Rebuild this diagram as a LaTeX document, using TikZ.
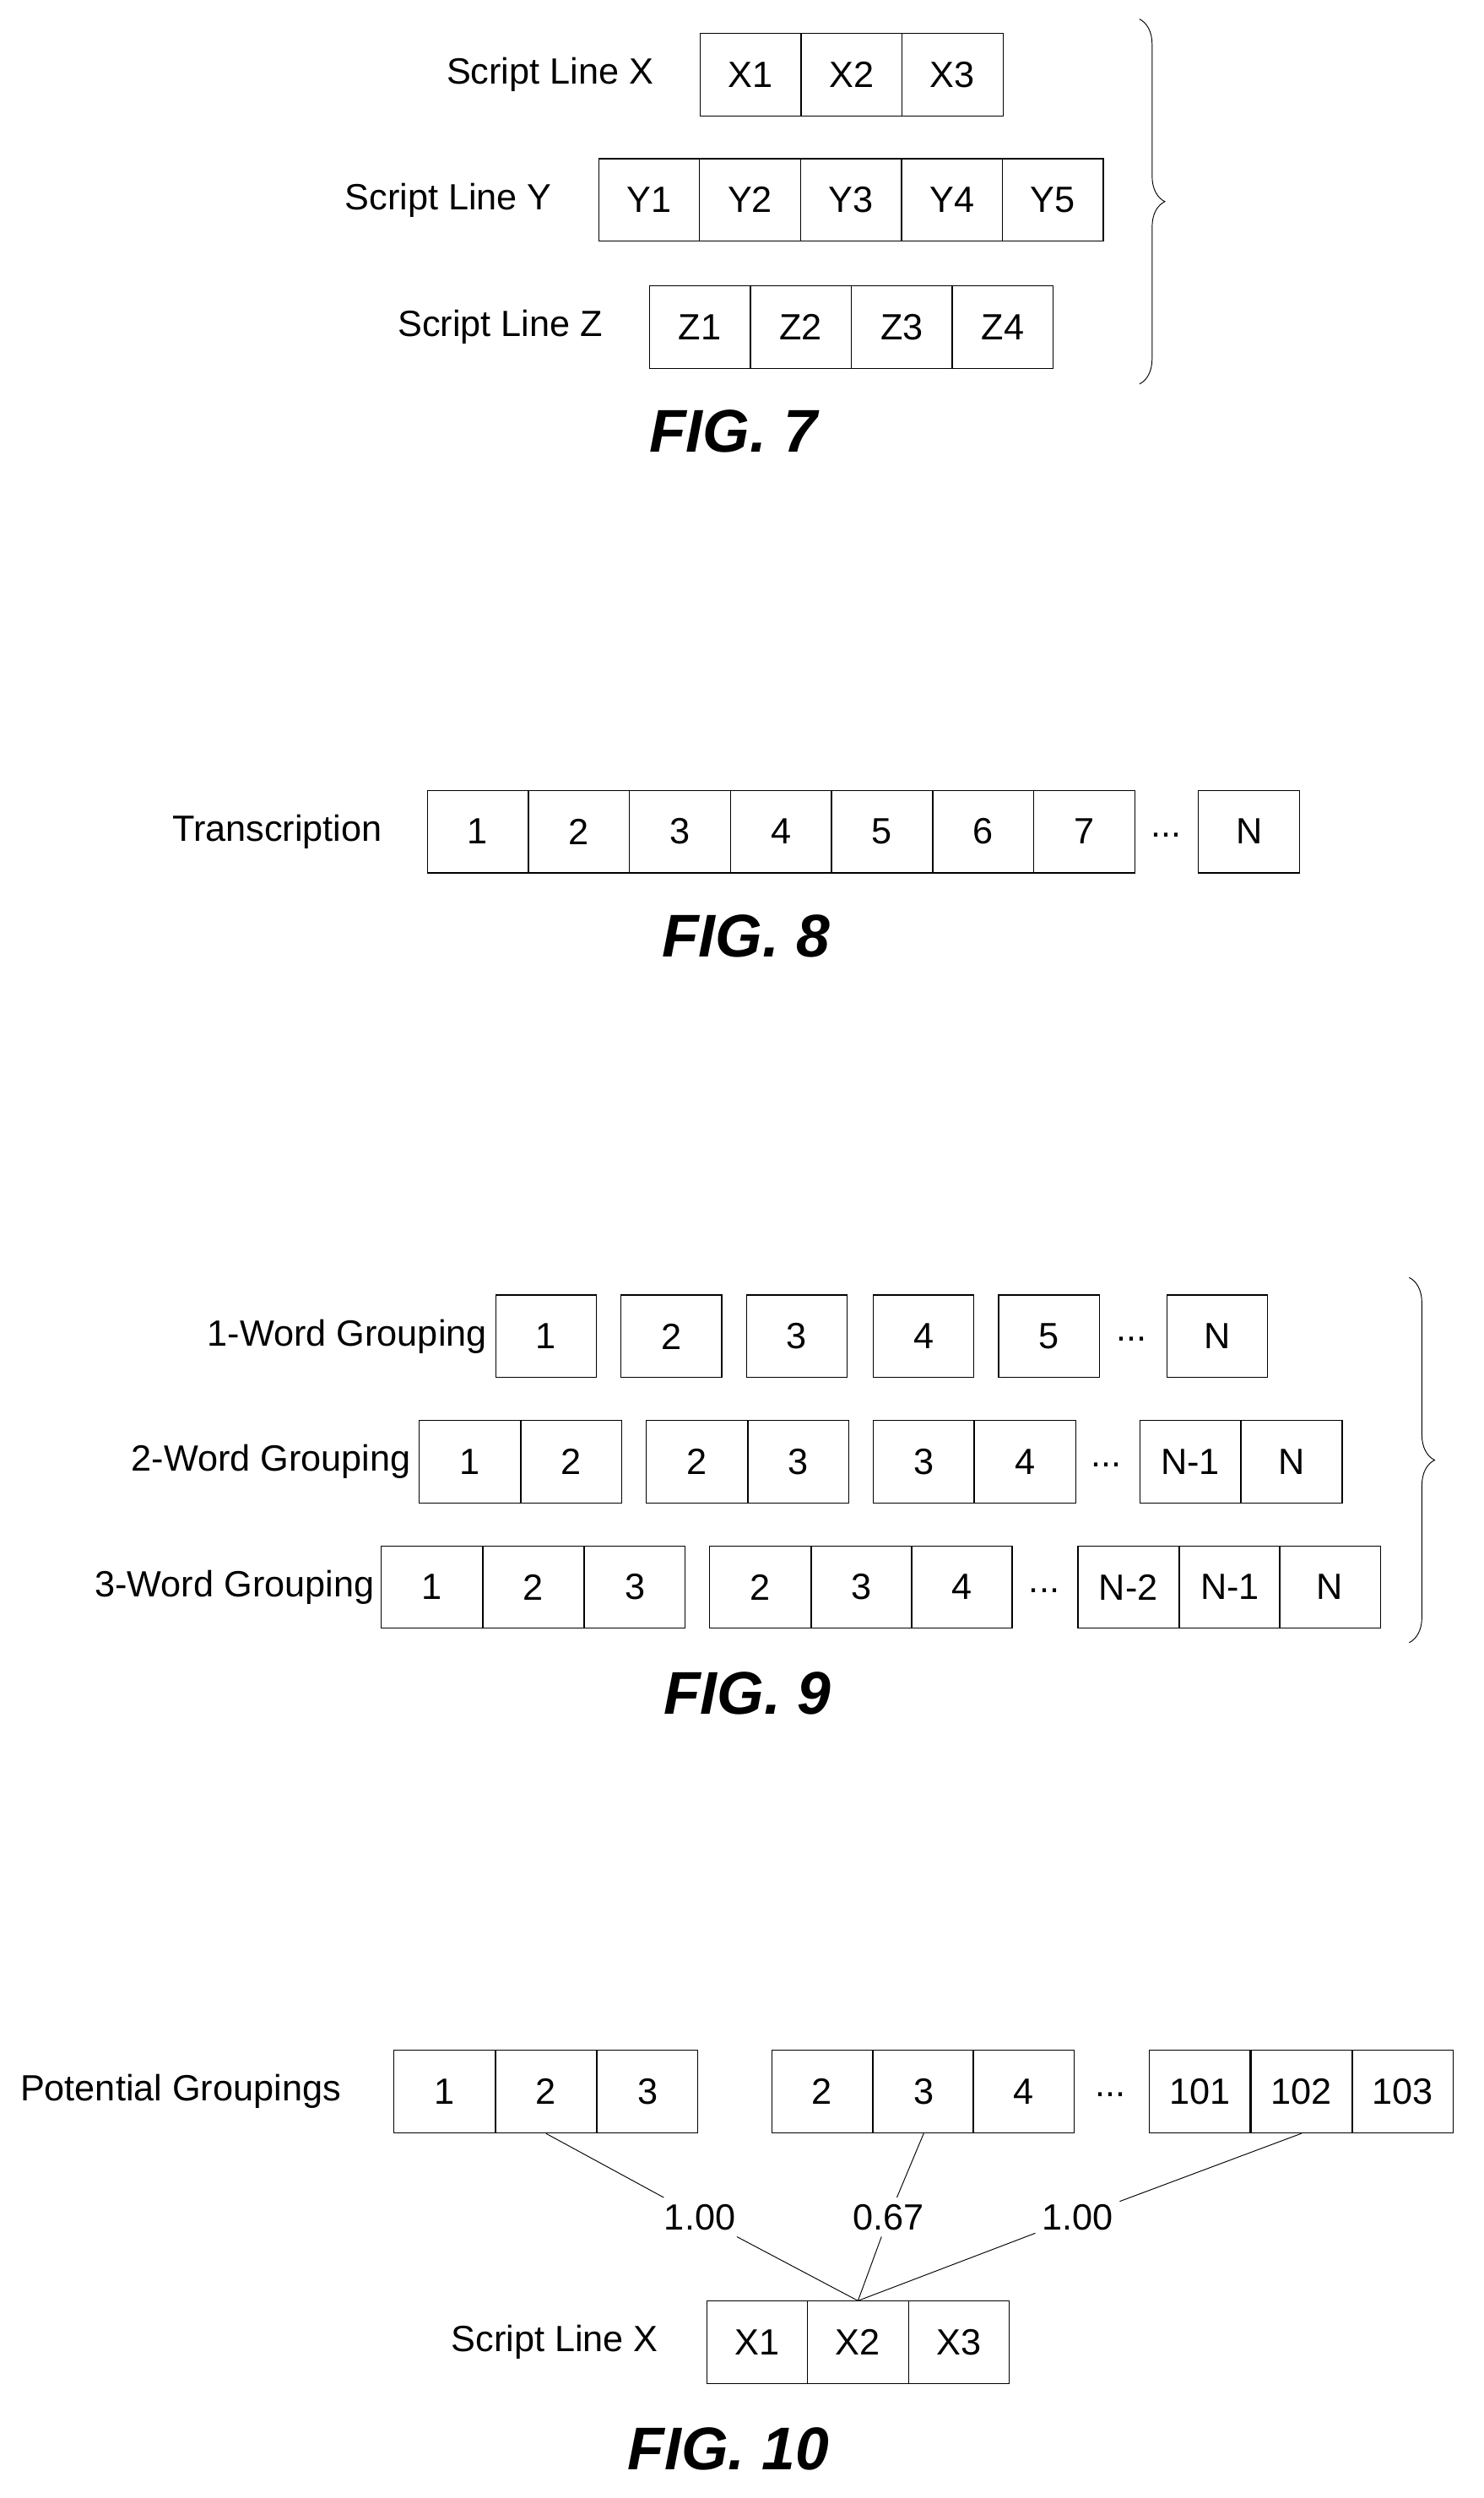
\documentclass[tikz,border=0pt]{standalone}
\usepackage{fontspec}
\setmainfont{Liberation Sans}
\usetikzlibrary{decorations.pathreplacing}
\begin{document}
\begin{tikzpicture}[x=1pt,y=-1pt,
  cell/.style={draw,line width=0.6pt,minimum width=63.5pt,minimum height=52pt,inner sep=0pt,font=\fontsize{23}{23}\selectfont,anchor=west},
  lab/.style={font=\fontsize{23}{23}\selectfont,anchor=east,inner sep=0pt},
  dots/.style={font=\fontsize{23}{23}\selectfont,inner sep=0pt},
  fig/.style={font=\fontsize{38}{38}\selectfont\bfseries\itshape,inner sep=0pt},
  brc/.style={decorate,decoration={brace,amplitude=16pt},line width=0.5pt},
  con/.style={line width=0.5pt},
  sc/.style={font=\fontsize{23}{23}\selectfont,inner sep=4pt,fill=white}]
\useasboundingbox (0,0) rectangle (935,1574);
% FIG 7
\node[lab] (lx) at (412,47) {Script Line X};
\foreach \t [count=\i] in {X1,X2,X3} \node[cell] (a\i) at ({441+63.6*(\i-1)},47) {\t};
\node[lab] (ly) at (348,126) {Script Line Y};
\foreach \t [count=\i] in {Y1,Y2,Y3,Y4,Y5} \node[cell] (b\i) at ({377+63.6*(\i-1)},126) {\t};
\node[lab] (lz) at (380,206) {Script Line Z};
\foreach \t [count=\i] in {Z1,Z2,Z3,Z4} \node[cell] (c\i) at ({409+63.6*(\i-1)},206) {\t};
\coordinate (br1a) at (718,12); \coordinate (br1b) at (718,242);
\draw[brc] (br1a) -- (br1b);
\node[fig] (f7) at (462,272) {FIG. 7};
% FIG 8
\node[lab] (lt) at (241,524) {Transcription};
\foreach \t [count=\i] in {1,...,7} \node[cell] (t\i) at ({269+63.7*(\i-1)},524) {\t};
\node[dots] (td) at (735,526) {...};
\node[cell] (tn) at (755,524) {N};
\node[fig] (f8) at (470,590) {FIG. 8};
% FIG 9
\node[lab] (l1) at (307,842) {1-Word Grouping};
\foreach \x/\t [count=\i] in {312/1,391/2,470/3,550/4,629/5,735/N} \node[cell] (g1\i) at (\x,842) {\t};
\node[dots] (d1) at (713,844) {...};
\node[lab] (l2) at (259,921) {2-Word Grouping};
\foreach \x/\t [count=\i] in {264/1,328/2,407/2,471/3,550/3,614/4,718/N-1,782/N} \node[cell] (g2\i) at (\x,921) {\t};
\node[dots] (d2) at (697,923) {...};
\node[lab] (l3) at (236,1000) {3-Word Grouping};
\foreach \x/\t [count=\i] in {240/1,304/2,368/3,447/2,511/3,574/4,679/N-2,743/N-1,806/N} \node[cell] (g3\i) at (\x,1000) {\t};
\node[dots] (d3) at (658,1002) {...};
\coordinate (br2a) at (888,805); \coordinate (br2b) at (888,1035);
\draw[brc] (br2a) -- (br2b);
\node[fig] (f9) at (471,1067) {FIG. 9};
% FIG 10
\node[lab] (lp) at (215,1318) {Potential Groupings};
\foreach \x/\t [count=\i] in {248/1,312/2,376/3,486/2,550/3,613/4,724/101,788/102,852/103} \node[cell] (p\i) at (\x,1318) {\t};
\node[dots] (pd) at (700,1320) {...};
\node[lab] (lx2) at (415,1476) {Script Line X};
\foreach \t [count=\i] in {X1,X2,X3} \node[cell] (x\i) at ({445+63.6*(\i-1)},1476) {\t};
\node[sc] (s1) at (441,1397) {1.00};
\node[sc] (s2) at (560,1397) {0.67};
\node[sc] (s3) at (679,1397) {1.00};
\draw[con] (p2.south) -- (s1) -- (x2.north);
\draw[con] (p5.south) -- (s2) -- (x2.north);
\draw[con] (p8.south) -- (s3) -- (x2.north);
\node[fig] (f10) at (459,1543) {FIG. 10};
\end{tikzpicture}
\end{document}
